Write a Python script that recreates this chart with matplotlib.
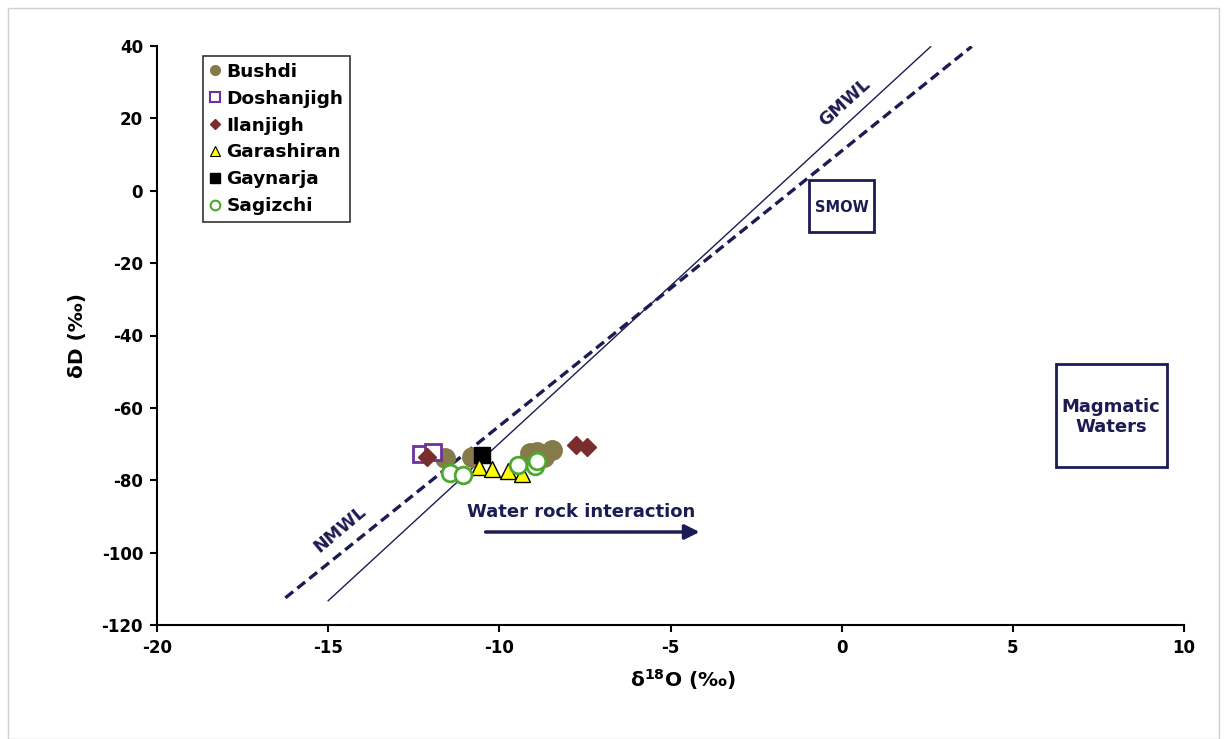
import matplotlib
matplotlib.use('Agg')
import matplotlib.pyplot as plt
from matplotlib.lines import Line2D
from matplotlib.patches import Rectangle
import numpy as np

plt.rcParams['axes.unicode_minus'] = False

navy = '#1c1c54'

# sample isotope values (d18O, dD) per spring
bushdi_x = [-11.6, -10.8, -9.1, -8.9, -8.45, -8.7]
bushdi_y = [-73.8, -73.5, -72.4, -72.1, -71.6, -73.5]
doshan_x = [-12.3, -11.95]
doshan_y = [-72.8, -72.3]
ilan_x = [-12.1, -7.75, -7.45]
ilan_y = [-73.5, -70.2, -70.8]
garash_x = [-10.6, -10.2, -9.75, -9.35]
garash_y = [-76.3, -76.9, -77.5, -78.3]
gaynar_x = [-10.5]
gaynar_y = [-73.0]
sagiz_x = [-11.45, -11.05, -9.45, -8.95, -8.9]
sagiz_y = [-78.0, -78.5, -75.7, -76.2, -74.6]

# meteoric water lines: (slope, intercept, x range)
gmwl = (8.7, 17.2, (-15.0, 2.6))
nmwl = (7.6, 11.0, (-16.25, 3.8))

fig = plt.figure(figsize=(12.27, 7.39), dpi=100)
ax = fig.add_axes([157/1227, 1-625/739, (1184-157)/1227, (625-46)/739])

# outer chart border
fig.patches.append(Rectangle((8/1227, 0.0), (1219-8)/1227, 1-8/739,
                             transform=fig.transFigure, fill=False,
                             edgecolor='#d0d0d0', lw=1.0))

s, b, (x0, x1) = gmwl
xx = np.array([x0, x1])
ax.plot(xx, s*xx + b, color=navy, lw=1.0, zorder=2)
s, b, (x0, x1) = nmwl
xx = np.array([x0, x1])
ax.plot(xx, s*xx + b, color=navy, lw=2.4, ls=(0, (3, 1.6)), zorder=2)

ax.plot(bushdi_x, bushdi_y, 'o', ms=14, color='#857b4a', mec='#857b4a', zorder=3)
ax.plot(doshan_x, doshan_y, 's', ms=12, mfc='white', mec='#7030a0', mew=2, zorder=3)
ax.plot(ilan_x, ilan_y, 'D', ms=9, color='#7b2c2c', zorder=4)
ax.plot(gaynar_x, gaynar_y, 's', ms=12, color='black', zorder=4)
ax.plot(garash_x, garash_y, '^', ms=12, mfc='#ffff00', mec='black', mew=1, zorder=5)
ax.plot(sagiz_x, sagiz_y, 'o', ms=12, mfc='white', mec='#4ea72e', mew=2, zorder=5)

ax.set_xlim(-20, 10)
ax.set_ylim(-120, 40)
ax.set_xticks(range(-20, 11, 5))
ax.set_yticks(range(-120, 41, 20))
for side in ['top', 'right']:
    ax.spines[side].set_visible(False)
for side in ['left', 'bottom']:
    ax.spines[side].set_linewidth(1.5)
ax.tick_params(direction='out', length=5, width=1.5, labelsize=12, pad=5)
for lbl in ax.get_xticklabels() + ax.get_yticklabels():
    lbl.set_fontweight('bold')

ax.set_xlabel('δ$^{\\mathbf{18}}$O (‰)', fontsize=14.5, fontweight='bold')
ax.set_ylabel('δD (‰)', fontsize=14.5, fontweight='bold')
ax.xaxis.set_label_coords(0.512, -0.073)
ax.yaxis.set_label_coords(-0.068, 0.5)

# labels on the water lines
ax.text(0.1, 24.5, 'GMWL', color=navy, fontsize=12.5, fontweight='bold',
        rotation=42, ha='center', va='center')
ax.text(-14.65, -93.5, 'NMWL', color=navy, fontsize=12.5, fontweight='bold',
        rotation=40, ha='center', va='center')

# reference boxes
ax.add_patch(Rectangle((-0.95, -11.4), 1.9, 14.4, fill=False, edgecolor=navy, lw=2))
ax.text(0.0, -4.6, 'SMOW', color=navy, fontsize=10.5, fontweight='bold',
        ha='center', va='center')
ax.add_patch(Rectangle((6.25, -76.3), 3.25, 28.5, fill=False, edgecolor=navy, lw=2))
ax.text(7.87, -62.5, 'Magmatic\nWaters', color=navy, fontsize=13, fontweight='bold',
        ha='center', va='center', linespacing=1.2)

ax.annotate('', xy=(-4.15, -94.3), xytext=(-10.4, -94.3),
            arrowprops=dict(arrowstyle='-|>', color=navy, lw=2.5,
                            mutation_scale=22, shrinkA=0, shrinkB=0))
ax.text(-7.6, -88.8, 'Water rock interaction', color=navy, fontsize=13,
        fontweight='bold', ha='center', va='center')

handles = [
    Line2D([], [], ls='', marker='o', ms=7, color='#857b4a'),
    Line2D([], [], ls='', marker='s', ms=7, mfc='white', mec='#7030a0', mew=1.5),
    Line2D([], [], ls='', marker='D', ms=5, color='#7b2c2c'),
    Line2D([], [], ls='', marker='^', ms=7, mfc='#ffff00', mec='black', mew=0.8),
    Line2D([], [], ls='', marker='s', ms=7, color='black'),
    Line2D([], [], ls='', marker='o', ms=7, mfc='white', mec='#4ea72e', mew=1.5),
]
names = ['Bushdi', 'Doshanjigh', 'Ilanjigh', 'Garashiran', 'Gaynarja', 'Sagizchi']
leg = ax.legend(handles, names, loc='upper left', bbox_to_anchor=(0.045, 0.982),
                prop={'weight': 'bold', 'size': 13.3}, frameon=True, fancybox=False,
                edgecolor='black', handlelength=0.6, handletextpad=0.3,
                labelspacing=0.48, borderpad=0.35, borderaxespad=0.0)
leg.get_frame().set_linewidth(1.2)

fig.savefig('out.png', dpi=100)
